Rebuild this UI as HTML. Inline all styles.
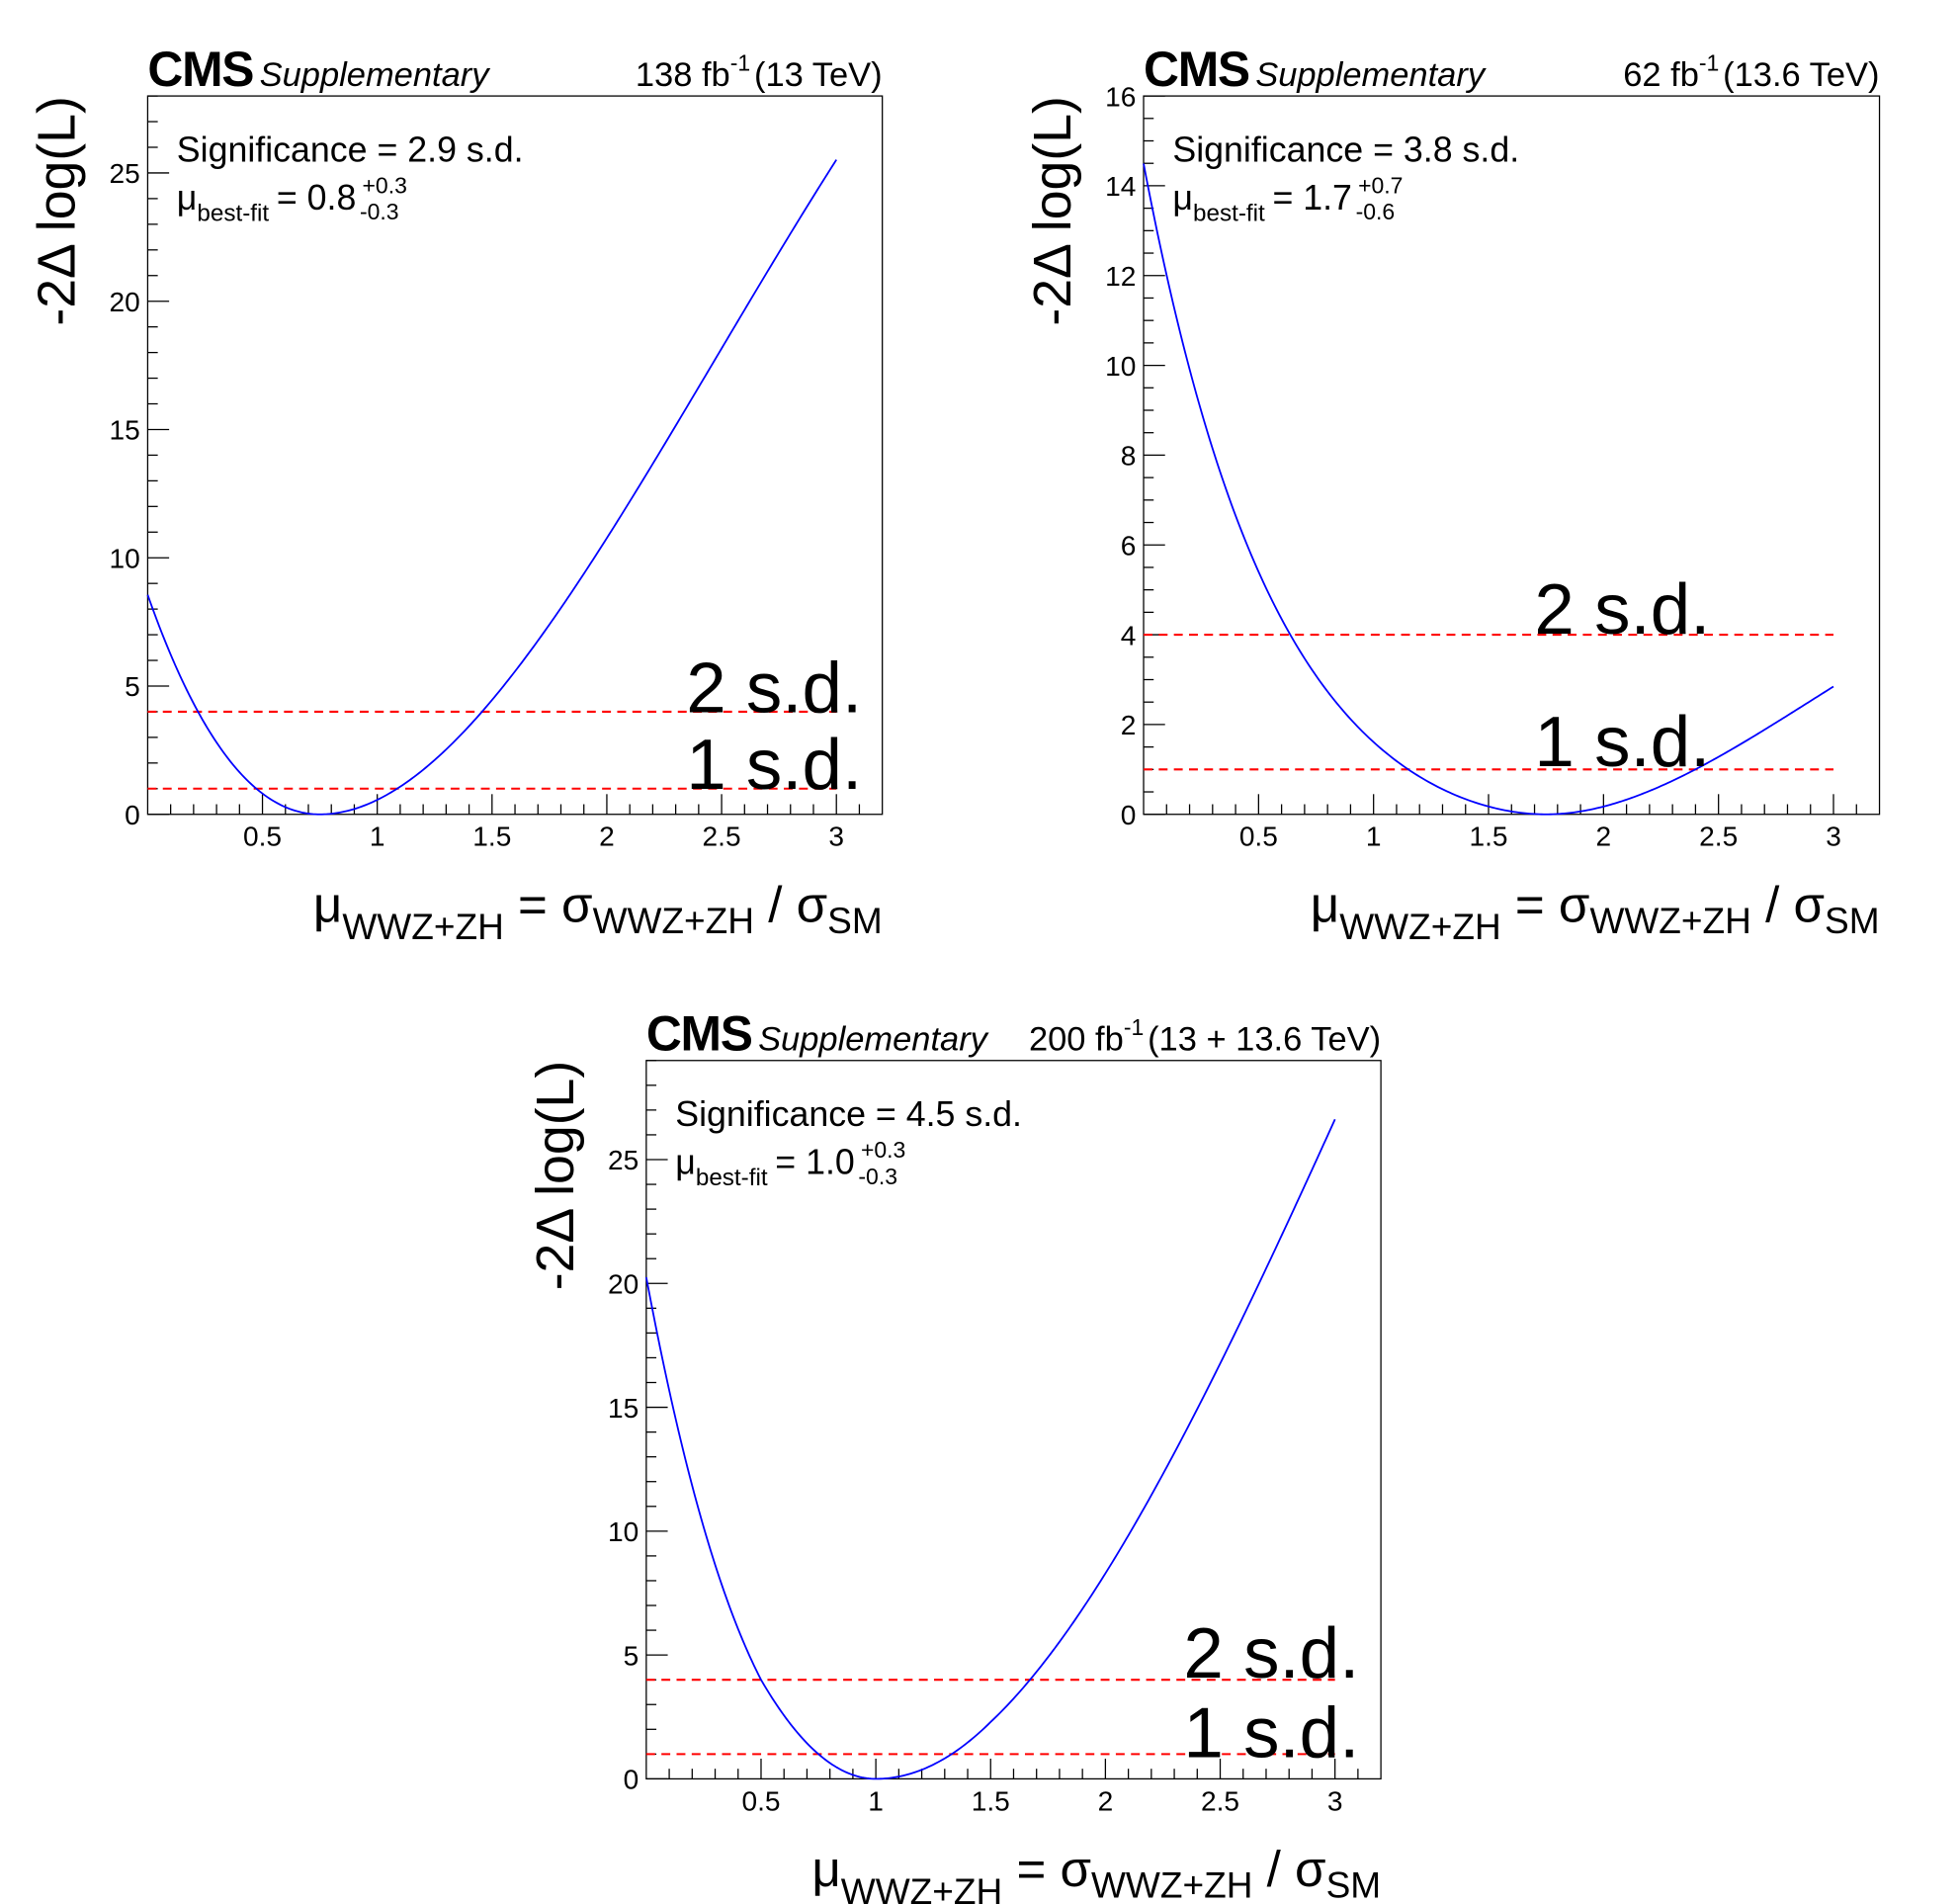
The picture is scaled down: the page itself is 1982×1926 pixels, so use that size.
<!DOCTYPE html>
<html><head><meta charset="utf-8"><style>
html,body{margin:0;padding:0;background:#fff;}
svg{display:block;}
text{font-family:"Liberation Sans",sans-serif;fill:#000;}
</style></head><body>
<svg id="s" width="1982" height="1926" viewBox="0 0 1552 1508.1" xmlns="http://www.w3.org/2000/svg"></svg>
<script>
const S=document.getElementById('s');let h='';
function panel(o){
 const {L,R,T,B,ymax,ymaj,ymin,f,lumi,sig,mu,up,dn,lab2,lab1}=o;
 const X=x=>L+(x/3.2)*(R-L), Y=y=>B-(y/ymax)*(B-T);
 h+=`<rect x="${L}" y="${T}" width="${R-L}" height="${B-T}" fill="none" stroke="#000" stroke-width="1"/>`;
 for(let i=1;i<32;i++){const x=X(i/10);const maj=i%5==0;h+=`<line x1="${x}" y1="${B}" x2="${x}" y2="${B-(maj?16:8)}" stroke="#000" stroke-width="1"/>`;
  if(maj)h+=`<text x="${x}" y="${B+25}" font-size="22" text-anchor="middle">${(i/10)}</text>`;}
 for(let v=0;v<=ymax+1e-9;v+=ymin){const y=Y(v);const maj=Math.abs(v/ymaj-Math.round(v/ymaj))<1e-6;
  h+=`<line x1="${L}" y1="${y}" x2="${L+(maj?17:8)}" y2="${y}" stroke="#000" stroke-width="1"/>`;
  if(maj)h+=`<text x="${L-6}" y="${y+8}" font-size="22" text-anchor="end">${Math.round(v)}</text>`;}
 [1,4].forEach(v=>h+=`<line x1="${L}" y1="${Y(v)}" x2="${X(3)}" y2="${Y(v)}" stroke="#f00" stroke-width="1.6" stroke-dasharray="7,5"/>`);
 let p=[];for(let i=0;i<=300;i++){const x=i/100;p.push(X(x).toFixed(2)+','+Y(f(x)).toFixed(2));}
 h+=`<polyline points="${p.join(' ')}" fill="none" stroke="#00f" stroke-width="1.4"/>`;
 h+=`<text x="${lab2[0]}" y="${lab2[1]}" font-size="57" text-anchor="end">2 s.d.</text>`;
 h+=`<text x="${lab1[0]}" y="${lab1[1]}" font-size="57" text-anchor="end">1 s.d.</text>`;
 h+=`<text x="${L}" y="${T-8}" font-size="39" font-weight="bold" letter-spacing="-1">CMS<tspan font-size="27" font-weight="normal" font-style="italic" dx="5" letter-spacing="0">Supplementary</tspan></text>`;
 h+=`<text x="${R}" y="${T-8}" font-size="27" text-anchor="end">${lumi[0]} fb<tspan font-size="18" dy="-12">-1</tspan><tspan dy="12" dx="3">${lumi[1]}</tspan></text>`;
 h+=`<text x="${L+23}" y="${T+52}" font-size="28">Significance = ${sig} s.d.</text>`;
 h+=`<text x="${L+23}" y="${T+90}" font-size="28">μ<tspan font-size="19" dy="9">best-fit</tspan><tspan dy="-9" dx="6">= ${mu}</tspan></text>`;
 h+=`<text x="${L+170}" y="${T+77}" font-size="18">${up}</text><text x="${L+168}" y="${T+98}" font-size="18">${dn}</text>`;
 h+=`<text transform="translate(${L-58},${T}) rotate(-90)" font-size="42" text-anchor="end">-2Δ log(L)</text>`;
 h+=`<text x="${R}" y="${B+85}" font-size="40" text-anchor="end">μ<tspan font-size="29" dy="14">WWZ+ZH</tspan><tspan dy="-14"> = σ</tspan><tspan font-size="29" dy="9">WWZ+ZH</tspan><tspan dy="-9"> / σ</tspan><tspan font-size="29" dy="9">SM</tspan></text>`;
}
function f1(x){let d=x-0.75;let s=d>=0?d*(3.1-0.38*d):-d*(3.45+0.6*-d);return s*s;}
function f2(x){let d=x-1.75;let s;if(d<0){d=-d;s=d*(1.717-0.256*d+0.296*d*d);}else s=d*(1.54-0.317*(d-0.65));return s*s;}
function f3(x){let d=x-1.0;let s;if(d<0){d=-d;s=d*(4+Math.max(0,d-0.5));}else s=d*(3.03-0.3*Math.max(0,d-0.5));return s*s;}
panel({L:117,R:699,T:76,B:645,ymax:28,ymaj:5,ymin:1,f:f1,lumi:['138','(13 TeV)'],sig:'2.9',mu:'0.8',up:'+0.3',dn:'-0.3',lab2:[683,564],lab1:[683,625]});
panel({L:906,R:1489,T:76,B:645,ymax:16,ymaj:2,ymin:0.5,f:f2,lumi:['62','(13.6 TeV)'],sig:'3.8',mu:'1.7',up:'+0.7',dn:'-0.6',lab2:[1355,502],lab1:[1355,607]});
panel({L:512,R:1094,T:840,B:1409,ymax:29,ymaj:5,ymin:1,f:f3,lumi:['200','(13 + 13.6 TeV)'],sig:'4.5',mu:'1.0',up:'+0.3',dn:'-0.3',lab2:[1077,1329],lab1:[1077,1392]});
S.innerHTML=h;
</script>
</body></html>
